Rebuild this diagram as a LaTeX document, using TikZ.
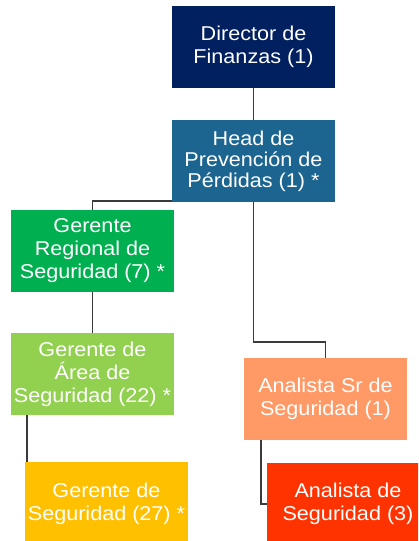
\documentclass[tikz,border=0pt]{standalone}
\usepackage{fontspec}
\usetikzlibrary{calc}
\setmainfont{Liberation Sans}[FakeStretch=1.08]
\definecolor{cdir}{HTML}{002060}
\definecolor{chead}{HTML}{1C6590}
\definecolor{cgreen}{HTML}{00B050}
\definecolor{clgreen}{HTML}{92D050}
\definecolor{cyellow}{HTML}{FFC000}
\definecolor{corange}{HTML}{FF9966}
\definecolor{cred}{HTML}{FF3300}
\definecolor{cline}{HTML}{3A3A3A}
\tikzset{
  box/.style={rectangle, inner sep=0pt, minimum width=163pt, minimum height=82pt,
    align=center, text=white, font=\fontsize{20}{23}\selectfont},
  conn/.style={draw=cline, line width=1.8pt}
}
\begin{document}
\begin{tikzpicture}[x=1pt,y=-1pt]
\clip (0,0) rectangle (418,541);
\fill[white] (0,0) rectangle (418,541);
\node[box, fill=cdir] (dir) at (253.5,47) {Director de\\Finanzas (1)};
\node[box, fill=chead, font=\fontsize{20}{21}\selectfont] (head) at (253.5,161) {Head de\\Prevención de\\Pérdidas (1) *};
\node[box, fill=cgreen] (green) at (92.5,251) {Gerente\\Regional de\\Seguridad (7) *};
\node[box, fill=clgreen] (lg) at (92.5,374) {Gerente de\\Área de\\Seguridad (22) *};
\node[box, fill=corange] (org) at (325.5,399) {Analista Sr de\\Seguridad (1)};
\node[box, fill=cyellow, minimum height=83pt] (yel) at (106.5,503.5) {Gerente de\\Seguridad (27) *};
\node[box, fill=cred, minimum width=162pt] (red) at (348,504) {Analista de\\Seguridad (3)};
\coordinate (hl) at ($(head.south west)+(0,-1)$);
\coordinate (lgs) at ($(lg.south west)+(16,0)$);
\coordinate (ors) at ($(org.south west)+(17,0)$);
\draw[conn] (dir.south) -- (head.north);
\draw[conn] (hl) -| (green.north);
\draw[conn] (head.south) -- ++(0,140) -| (org.north);
\draw[conn] (green.south) -- (lg.north);
\draw[conn] (lgs) -- (lgs |- yel.north);
\draw[conn] (ors) |- (red.west);
\end{tikzpicture}
\end{document}
